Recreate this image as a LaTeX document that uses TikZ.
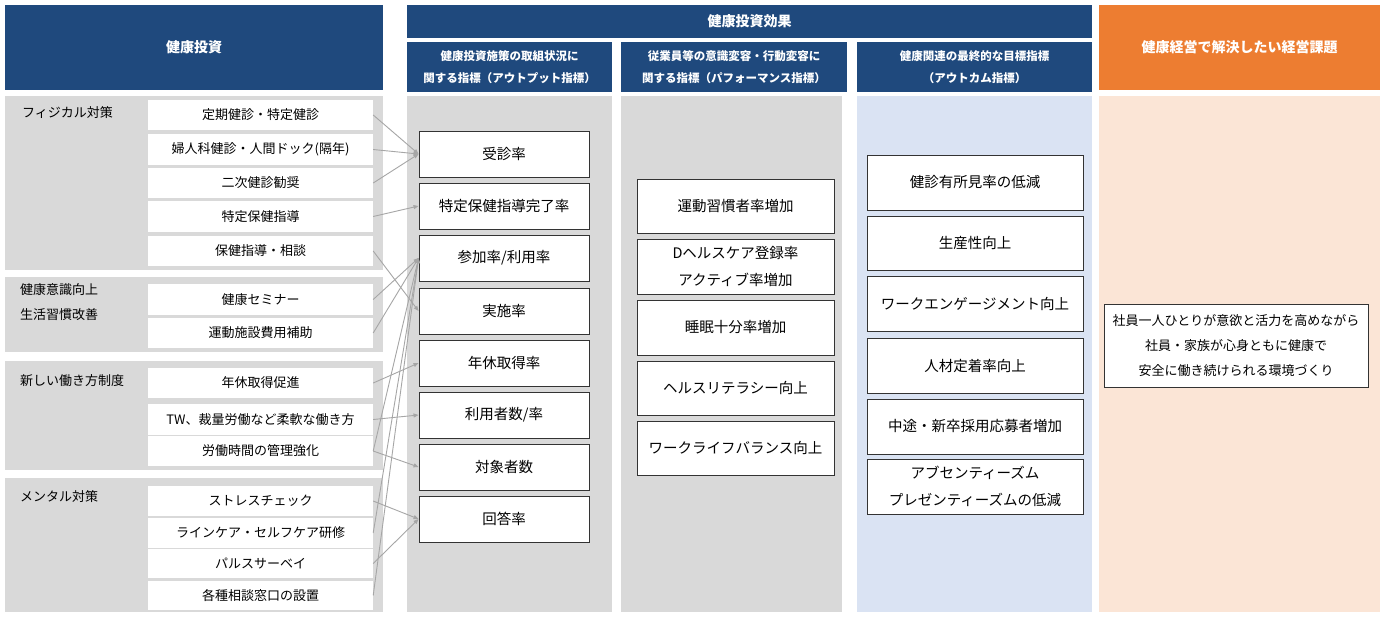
\documentclass[tikz,border=0pt]{standalone}
\usepackage{fontspec}
\setmainfont{Noto Sans CJK JP}
\usetikzlibrary{arrows.meta}
\definecolor{hdr}{HTML}{1F497D}
\definecolor{org}{HTML}{ED7D31}
\definecolor{gr}{HTML}{D9D9D9}
\definecolor{lb}{HTML}{DAE3F3}
\definecolor{pch}{HTML}{FBE5D6}
\definecolor{ar}{HTML}{A6A6A6}
\tikzset{
 hbox/.style={fill=hdr,text=white,font=\fontsize{14}{17}\selectfont\bfseries,align=center,inner sep=0},
 sbox/.style={hbox,font=\fontsize{11.5}{22}\selectfont\bfseries},
 item/.style={fill=white,draw=none,font=\fontsize{13}{15}\selectfont,inner sep=0},
 mbox/.style={fill=white,draw=black!80,line width=0.9pt,font=\fontsize{14.5}{27}\selectfont,align=center,inner sep=0},
 lab/.style={font=\fontsize{13}{25}\selectfont,align=left,anchor=north west,inner sep=0},
 con/.style={draw=ar,line width=0.9pt,-{Triangle[length=5pt,width=4pt]}}
}
\begin{document}
\begin{tikzpicture}[x=1pt,y=-1pt]
\useasboundingbox (0,0) rectangle (1384,619);
\fill[white] (0,0) rectangle (1384,619);
% headers
\node[hbox,minimum width=378,minimum height=85] (h1) at (194,47.5) {健康投資};
\node[hbox,minimum width=685,minimum height=33] (h2) at (749.5,21.5) {健康投資効果};
\node[sbox,minimum width=205,minimum height=50] (h21) at (509.5,67) {健康投資施策の取組状況に\\関する指標（アウトプット指標）};
\node[sbox,minimum width=226,minimum height=50] (h22) at (734,67) {従業員等の意識変容・行動変容に\\関する指標（パフォーマンス指標）};
\node[sbox,minimum width=235,minimum height=50] (h23) at (974.5,67) {健康関連の最終的な目標指標\\（アウトカム指標）};
\node[hbox,fill=org,minimum width=281,minimum height=85] (h3) at (1239.5,47.5) {健康経営で解決したい経営課題};
% panels
\fill[gr] (5,96) rectangle (383,270);
\fill[gr] (5,277) rectangle (383,352);
\fill[gr] (5,361) rectangle (383,470);
\fill[gr] (5,478) rectangle (383,612);
\fill[gr] (407,96) rectangle (612,612);
\fill[gr] (621,96) rectangle (842,612);
\fill[lb] (857,96) rectangle (1092,612);
\fill[pch] (1099,96) rectangle (1380,612);
\node[lab] (g1) at (22,106) {フィジカル対策};
\node[lab] (g2) at (20,283) {健康意識向上\\生活習慣改善};
\node[lab] (g3) at (20,374) {新しい働き方制度};
\node[lab] (g4) at (20,490) {メンタル対策};
% items
\foreach \n/\a/\b/\t in {i1/100/130/{定期健診・特定健診}, i2/134/165/{婦人科健診・人間ドック(隔年)}, i3/168/198/{二次健診勧奨}, i4/201/232/{特定保健指導}, i5/236/266/{保健指導・相談}, i6/284/315/{健康セミナー}, i7/318/348/{運動施設費用補助}, i8/368/398/{年休取得促進}, i9/404/435/{TW、裁量労働など柔軟な働き方}, i10/436/466/{労働時間の管理強化}, i11/486/516/{ストレスチェック}, i12/518/548/{ラインケア・セルフケア研修}, i13/549/578/{パルスサーベイ}, i14/581/610/{各種相談窓口の設置}}
 \node[item,minimum width=225,minimum height=\b-\a] (\n) at (260.5,{(\a+\b)/2}) {\t};
% column 1
\foreach \n/\a/\b/\t in {o1/131/177/{受診率}, o2/183/229/{特定保健指導完了率}, o3/235/281/{参加率/利用率}, o4/288/334/{実施率}, o5/340/386/{年休取得率}, o6/392/438/{利用者数/率}, o7/444/490/{対象者数}, o8/496/542/{回答率}}
 \node[mbox,minimum width=170,minimum height=\b-\a] (\n) at (504,{(\a+\b)/2}) {\t};
% column 2
\foreach \n/\a/\b/\t in {p1/179/233/{運動習慣者率増加}, p2/239/294/{Dヘルスケア登録率\\アクティブ率増加}, p3/300/355/{睡眠十分率増加}, p4/361/415/{ヘルスリテラシー向上}, p5/421/475/{ワークライフバランス向上}}
 \node[mbox,minimum width=197,minimum height=\b-\a] (\n) at (735.5,{(\a+\b)/2}) {\t};
% column 3
\foreach \n/\a/\b/\t in {q1/155/210/{健診有所見率の低減}, q2/216/270/{生産性向上}, q3/276/331/{ワークエンゲージメント向上}, q4/338/393/{人材定着率向上}, q5/399/454/{中途・新卒採用応募者増加}, q6/459/514/{アブセンティーズム\\プレゼンティーズムの低減}}
 \node[mbox,minimum width=216,minimum height=\b-\a] (\n) at (975,{(\a+\b)/2}) {\t};
\node[mbox,minimum width=264,minimum height=83,font=\fontsize{13}{25}\selectfont] (r1) at (1236,345.5) {社員一人ひとりが意欲と活力を高めながら\\社員・家族が心身ともに健康で\\安全に働き続けられる環境づくり};
% connectors
\draw[con] (i1.east) -- (o1.west);
\draw[con] (i2.east) -- (o1.west);
\draw[con] (i3.east) -- (o1.west);
\draw[con] (i4.east) -- (o2.west);
\draw[con] (i5.east) -- (o4.west);
\draw[con] (i6.east) -- (o3.west);
\draw[con] (i7.east) -- (o3.west);
\draw[con] (i8.east) -- (o5.west);
\draw[con] (i9.east) -- (o6.west);
\draw[con] (i10.east) -- (o3.west);
\draw[con] (i10.east) -- (o7.west);
\draw[con] (i11.east) -- (o8.west);
\draw[con] (i12.east) -- (o3.west);
\draw[con] (i13.east) -- (o8.west);
\draw[con] (i14.east) -- (o3.west);
\end{tikzpicture}
\end{document}
